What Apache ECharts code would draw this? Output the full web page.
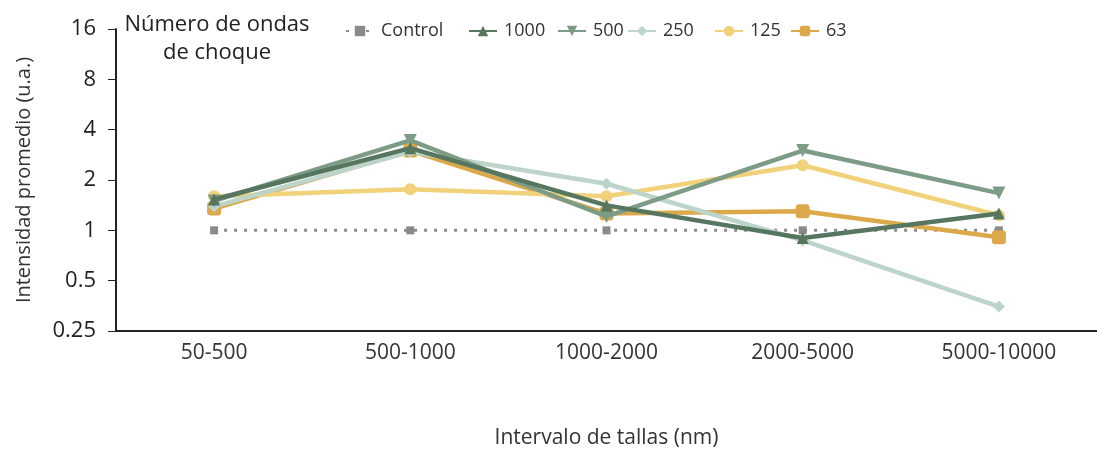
<!DOCTYPE html>
<html>
<head>
<meta charset="utf-8">
<script src="https://cdn.jsdelivr.net/npm/echarts@6/dist/echarts.min.js"></script>
<style>
  html, body { margin: 0; padding: 0; background: #fff; }
  #chart { width: 1097px; height: 452px; }
</style>
</head>
<body>
<div id="chart"></div>
<script>
// Size ranges (nm)
const categories = ['50-500', '500-1000', '1000-2000', '2000-5000', '5000-10000'];
// Log2 axis tick labels
const yTicks = [0.25, 0.5, 1, 2, 4, 8, 16];
// Legend entries, in display order
const seriesNames = ['Control', '1000', '500', '250', '125', '63'];

// Mean intensity (a.u.) per number of shock waves
const control = [1, 1, 1, 1, 1];
const w1000 = [1.53, 3.1, 1.41, 0.9, 1.26];
const w500  = [1.5, 3.45, 1.21, 3.0, 1.67];
const w250  = [1.39, 2.95, 1.9, 0.87, 0.35];
const w125  = [1.6, 1.76, 1.6, 2.45, 1.23];
const w63   = [1.35, 3.0, 1.26, 1.3, 0.91];

const FONT = '"Open Sans", "DejaVu Sans", sans-serif';

function lineSeries(name, data, color, symbol, size, z, extra) {
  return Object.assign({
    name: name,
    type: 'line',
    data: data,
    symbol: symbol,
    symbolSize: size,
    z: z,
    lineStyle: { color: color, width: 4.5 },
    itemStyle: { color: color },
    emphasis: { disabled: true },
    animation: false
  }, extra || {});
}

// One legend block per entry so each can sit at its own x
const legendLeft = [340, 463, 552, 622, 709, 785];
const legends = seriesNames.map((n, i) => ({
  left: legendLeft[i], top: 17,
  itemWidth: 28, itemHeight: 13,
  textStyle: { fontFamily: FONT, fontSize: 18, color: '#333', padding: [0, 0, 0, 2] },
  data: [n]
}));

const chart = echarts.init(document.getElementById('chart'), null, { renderer: 'canvas' });
chart.setOption({
  backgroundColor: '#fff',
  textStyle: { fontFamily: FONT },
  grid: { left: 116, right: 0, top: 29, bottom: 121, outerBoundsMode: 'none', containLabel: false },
  title: {
    text: 'Número de ondas\nde choque',
    left: 212, top: 6,
    textAlign: 'center',
    textStyle: { fontFamily: FONT, fontSize: 22, fontWeight: 'normal', color: '#222', lineHeight: 28 }
  },
  legend: legends,
  xAxis: {
    type: 'category',
    data: categories,
    boundaryGap: true,
    axisLine: { lineStyle: { color: '#222', width: 2 } },
    axisTick: { alignWithLabel: true, length: 6, lineStyle: { color: '#888' } },
    axisLabel: { fontFamily: FONT, fontSize: 21, color: '#333', margin: 12 },
    name: 'Intervalo de tallas (nm)',
    nameLocation: 'middle',
    nameGap: 97,
    nameTextStyle: { fontFamily: FONT, fontSize: 21, color: '#333' }
  },
  yAxis: {
    type: 'log',
    logBase: 2,
    min: 0.25,
    max: 16,
    splitLine: { show: false },
    axisLine: { show: true, lineStyle: { color: '#222', width: 2 } },
    axisTick: { show: true, length: 8, inside: false, lineStyle: { color: '#222' } },
    axisLabel: {
      fontFamily: FONT, fontSize: 22, color: '#222', margin: 20,
      formatter: function (v) {
        const t = yTicks.find(k => Math.abs(k - v) < 1e-6);
        return t === undefined ? '' : String(t);
      }
    },
    name: 'Intensidad promedio (u.a.)',
    nameLocation: 'middle',
    nameGap: 82,
    nameTextStyle: { fontFamily: FONT, fontSize: 20, color: '#333' }
  },
  series: [
    lineSeries('Control', control, '#8a8a8a', 'rect', 8, 1,
      { lineStyle: { color: '#8a8a8a', width: 3, type: [3, 7] } }),
    lineSeries('63', w63, '#dba94a', 'roundRect', 14, 2),
    lineSeries('125', w125, '#f1d17a', 'circle', 12, 3),
    lineSeries('250', w250, '#bcd4ca', 'diamond', 12, 4),
    lineSeries('500', w500, '#7d9c86', 'path://M0,0 L10,0 L5,9 Z', 13, 5),
    lineSeries('1000', w1000, '#577660', 'triangle', 12, 6)
  ]
});
</script>
</body>
</html>
